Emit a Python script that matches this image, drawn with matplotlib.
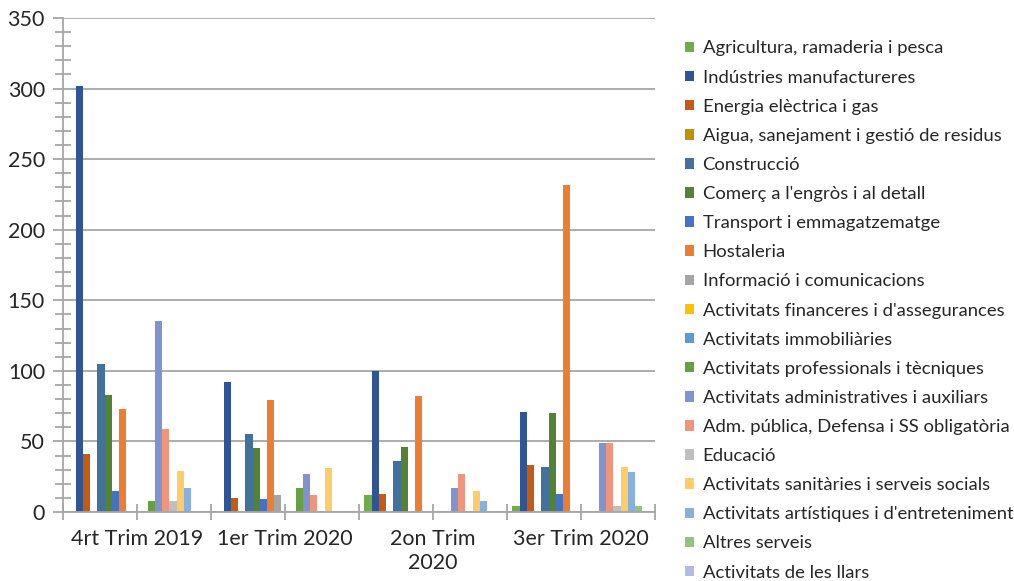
import matplotlib
matplotlib.use("Agg")
import matplotlib.pyplot as plt
import numpy as np
from matplotlib.ticker import MultipleLocator, FixedLocator

plt.rcParams['font.family'] = ['Lato', 'DejaVu Sans']

categories = ["4rt Trim 2019", "1er Trim 2020", "2on Trim\n2020", "3er Trim 2020"]

series_names = [
    "Agricultura, ramaderia i pesca",
    "Indústries manufactureres",
    "Energia elèctrica i gas",
    "Aigua, sanejament i gestió de residus",
    "Construcció",
    "Comerç a l'engròs i al detall",
    "Transport i emmagatzematge",
    "Hostaleria",
    "Informació i comunicacions",
    "Activitats financeres i d'assegurances",
    "Activitats immobiliàries",
    "Activitats professionals i tècniques",
    "Activitats administratives i auxiliars",
    "Adm. pública, Defensa i SS obligatòria",
    "Educació",
    "Activitats sanitàries i serveis socials",
    "Activitats artístiques i d'entreteniment",
    "Altres serveis",
    "Activitats de les llars",
]

agricultura = [0, 0, 12, 4]
industries = [302, 92, 100, 71]
energia = [41, 10, 13, 33]
aigua = [0, 0, 0, 0]
construccio = [105, 55, 36, 32]
comerc = [83, 45, 46, 70]
transport = [15, 9, 0, 13]
hostaleria = [73, 79, 82, 232]
informacio = [0, 12, 0, 0]
financeres = [0, 0, 0, 0]
immobiliaries = [0, 0, 0, 0]
professionals = [8, 17, 0, 0]
administratives = [135, 27, 17, 49]
adm_publica = [59, 12, 27, 49]
educacio = [8, 0, 0, 4]
sanitaries = [29, 31, 15, 32]
artistiques = [17, 0, 8, 28]
altres = [0, 0, 0, 4]
llars = [0, 0, 0, 0]

series_values = [agricultura, industries, energia, aigua, construccio, comerc,
                 transport, hostaleria, informacio, financeres, immobiliaries,
                 professionals, administratives, adm_publica, educacio,
                 sanitaries, artistiques, altres, llars]

colors = ["#70AD47", "#2F5597", "#C55A11", "#BF9000", "#41719C", "#548235",
          "#4472C4", "#ED7D31", "#A5A5A5", "#FFC000", "#5B9BD5", "#67A040",
          "#7F93CF", "#F1957A", "#BFBFBF", "#FFCC66", "#86B0E0", "#92C47D",
          "#B0BCE3"]

fig = plt.figure(figsize=(10.14, 5.81), dpi=100)
ax = fig.add_axes([63/1014, 1-512/581, (655-63)/1014, (512-18)/581])

n = len(series_names)
w = 1/20.5
x = np.arange(len(categories))
for i, (name, vals, c) in enumerate(zip(series_names, series_values, colors)):
    ax.bar(x + (i - (n-1)/2)*w, vals, width=w, color=c, label=name, linewidth=0)

ax.set_xlim(-0.5, len(categories)-0.5)
ax.set_ylim(0, 350)

ax.yaxis.set_major_locator(MultipleLocator(50))
ax.yaxis.set_minor_locator(MultipleLocator(10))
ax.grid(axis='y', which='major', color='#A6A6A6', linewidth=1.3)
ax.set_axisbelow(True)

ax.xaxis.set_major_locator(FixedLocator(x))
ax.set_xticklabels(categories)
ax.xaxis.set_minor_locator(FixedLocator(np.arange(-0.5, len(categories), 1.0)))

for s in ['top', 'right']:
    ax.spines[s].set_visible(False)
for s in ['left', 'bottom']:
    ax.spines[s].set_color('#A6A6A6')
    ax.spines[s].set_linewidth(1.3)

ax.tick_params(axis='y', which='major', length=7, width=1.3, color='#A6A6A6',
               labelsize=15.5, labelcolor='#262626', pad=6)
ax.tick_params(axis='y', which='minor', direction='inout', length=11, width=1.3, color='#A6A6A6')
ax.tick_params(axis='x', which='both', direction='inout', length=11, width=1.3, color='#A6A6A6',
               labelsize=15.5, labelcolor='#262626', pad=7)

leg = ax.legend(loc='upper left', bbox_to_anchor=(685/1014, 1-40.5/581),
                bbox_transform=fig.transFigure, frameon=False, fontsize=13.3,
                handlelength=0.5, handleheight=0.5, handletextpad=0.45,
                labelspacing=0.71, borderaxespad=0, borderpad=0)
for t in leg.get_texts():
    t.set_color('#262626')

fig.savefig("out.png", dpi=100)
